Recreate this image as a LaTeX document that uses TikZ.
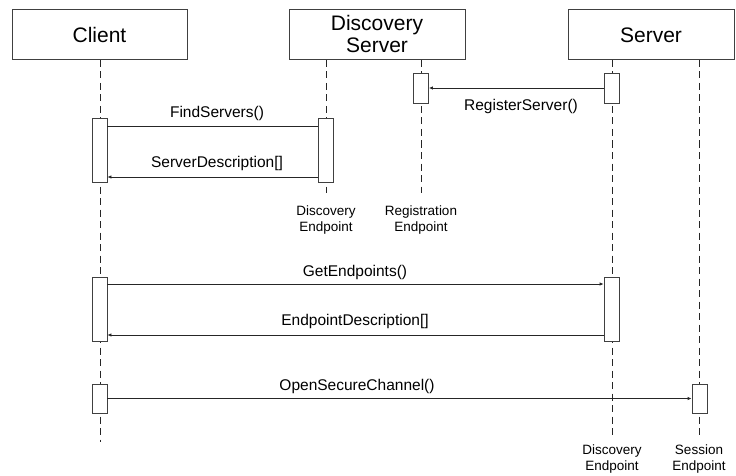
\documentclass[tikz,border=0pt]{standalone}
\usepackage{fontspec}
\setmainfont{Liberation Sans}
\usetikzlibrary{arrows.meta}
\begin{document}
\begin{tikzpicture}[x=1pt,y=-1pt,
  obj/.style={draw=black!75,line width=0.8pt,fill=white},
  life/.style={draw=black!85,line width=0.7pt,dash pattern=on 7pt off 4.5pt},
  act/.style={draw=black!75,line width=0.8pt,fill=white},
  msg/.style={draw=black!85,line width=0.8pt},
  tip/.style={-{Latex[length=4pt,width=3.5pt]}},
  title/.style={font=\fontsize{21}{22}\selectfont,align=center},
  mlabel/.style={font=\fontsize{15.5}{17}\selectfont},
  eplabel/.style={font=\fontsize{13.5}{16}\selectfont,align=center}]
\useasboundingbox (0,0) rectangle (736,476);
% lifelines
\coordinate (cl0) at (100,60); \coordinate (cl1) at (100,442);
\coordinate (ds0) at (326,60); \coordinate (ds1) at (326,193);
\coordinate (rg0) at (421,60); \coordinate (rg1) at (421,193);
\coordinate (sv0) at (612,60); \coordinate (sv1) at (612,435);
\coordinate (ss0) at (699,60); \coordinate (ss1) at (699,435);
\draw[life] (cl0) -- (cl1);
\draw[life] (ds0) -- (ds1);
\draw[life] (rg0) -- (rg1);
\draw[life] (sv0) -- (sv1);
\draw[life] (ss0) -- (ss1);
% object boxes
\draw[obj] (12,9) rectangle (187,59);
\node[title] (client) at (99.5,35) {Client};
\draw[obj] (289,9) rectangle (465,59);
\node[title] (dserver) at (377,34) {Discovery\\Server};
\draw[obj] (568,9) rectangle (734,59);
\node[title] (server) at (651,35) {Server};
% activations
\node[act,minimum width=15pt,minimum height=64pt,inner sep=0pt] (a1) at (99.5,150) {};
\node[act,minimum width=15pt,minimum height=64pt,inner sep=0pt] (a2) at (325.5,150) {};
\node[act,minimum width=15pt,minimum height=30pt,inner sep=0pt] (a3) at (421,88) {};
\node[act,minimum width=15pt,minimum height=30pt,inner sep=0pt] (a4) at (611.5,88) {};
\node[act,minimum width=15pt,minimum height=64pt,inner sep=0pt] (a5) at (99.5,309) {};
\node[act,minimum width=15pt,minimum height=64pt,inner sep=0pt] (a6) at (611.5,309) {};
\node[act,minimum width=15pt,minimum height=29pt,inner sep=0pt] (a7) at (99.5,398.5) {};
\node[act,minimum width=15pt,minimum height=29pt,inner sep=0pt] (a8) at (699.5,398.5) {};
% messages
\draw[msg] (a1.east |- 0,126) -- (a2.west |- 0,126);
\node[mlabel] (m1) at (217,113) {FindServers()};
\draw[msg,tip] (a2.west |- 0,177) -- (a1.east |- 0,177);
\node[mlabel] (m2) at (217,163) {ServerDescription[]};
\draw[msg,tip] (a4.west) -- (a3.east);
\node[mlabel] (m3) at (521,106) {RegisterServer()};
\draw[msg,tip] (a5.east |- 0,284) -- (a6.west |- 0,284);
\node[mlabel] (m4) at (355,272) {GetEndpoints()};
\draw[msg,tip] (a6.west |- 0,335) -- (a5.east |- 0,335);
\node[mlabel] (m5) at (355,321) {EndpointDescription[]};
\draw[msg,tip] (a7.east) -- (a8.west);
\node[mlabel] (m6) at (357,386) {OpenSecureChannel()};
% endpoint labels
\node[eplabel] (e1) at (326,220) {Discovery\\Endpoint};
\node[eplabel] (e2) at (421,220) {Registration\\Endpoint};
\node[eplabel] (e3) at (612,459) {Discovery\\Endpoint};
\node[eplabel] (e4) at (699,459) {Session\\Endpoint};
\end{tikzpicture}
\end{document}
